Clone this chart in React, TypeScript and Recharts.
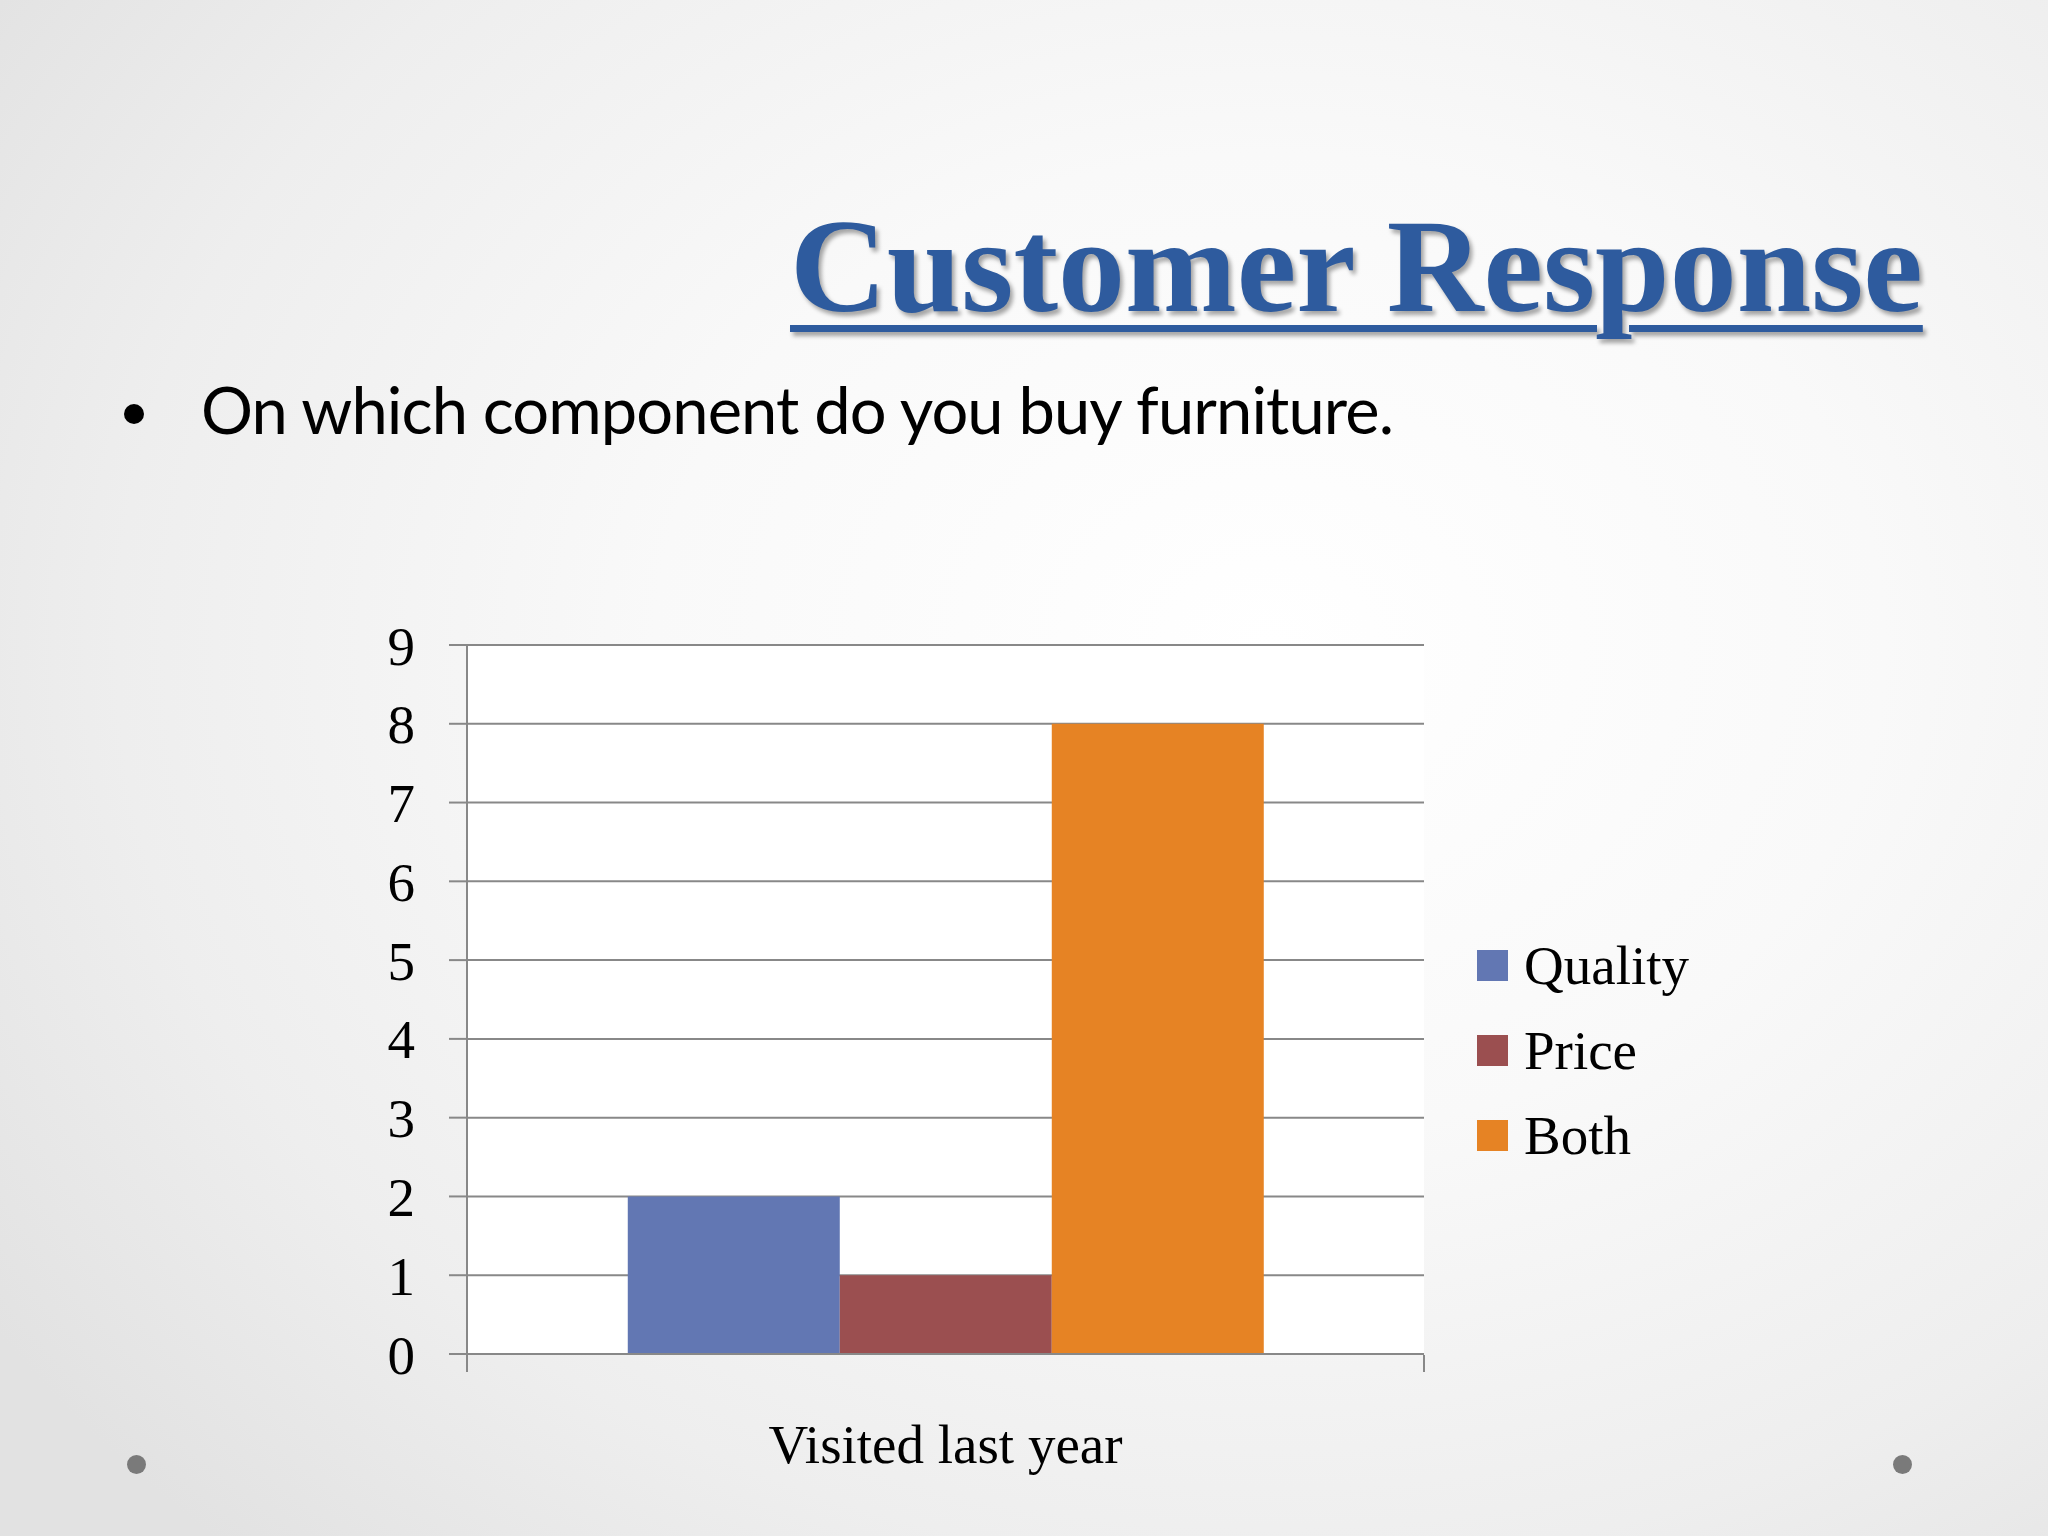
import { BarChart, Bar, XAxis, YAxis, CartesianGrid } from "recharts";

const categories = ["Visited last year"];
const quality = [2];
const price = [1];
const both = [8];
const yTicks = [0, 1, 2, 3, 4, 5, 6, 7, 8, 9];

const series = [
  { key: "Quality", color: "#6277B3", values: quality },
  { key: "Price", color: "#9B4F50", values: price },
  { key: "Both", color: "#E68324", values: both },
];

const data = categories.map((name, i) => {
  const row: Record<string, string | number> = { name };
  series.forEach((s) => (row[s.key] = s.values[i]));
  return row;
});

const SERIF = "'Liberation Serif', 'Times New Roman', serif";
const AXIS = "#888888";

export default function App() {
  return (
    <div
      style={{
        position: "fixed",
        left: 0,
        top: 0,
        width: 2048,
        height: 1536,
        overflow: "hidden",
        background:
          "radial-gradient(ellipse 75% 80% at 62% 42%, #ffffff 0%, #f9f9f9 40%, #eeeeee 75%, #e2e2e2 100%)",
      }}
    >
      {/* slide title */}
      <div
        style={{
          position: "absolute",
          left: 790,
          top: 199,
          fontFamily: SERIF,
          fontWeight: "bold",
          fontSize: 134,
          lineHeight: 1,
          color: "#2E5B9E",
          whiteSpace: "nowrap",
          textDecoration: "underline",
          textDecorationThickness: 7,
          textUnderlineOffset: 14,
          textShadow: "3px 4px 4px rgba(0,0,0,0.35)",
        }}
      >
        Customer Response
      </div>

      {/* bullet */}
      <div
        style={{
          position: "absolute",
          left: 124,
          top: 404,
          width: 20,
          height: 20,
          borderRadius: 10,
          background: "#000",
        }}
      />
      <div
        style={{
          position: "absolute",
          left: 201,
          top: 377,
          fontFamily: "Lato, 'Open Sans', sans-serif",
          fontSize: 65,
          letterSpacing: -0.9,
          lineHeight: 1,
          color: "#000",
          whiteSpace: "nowrap",
        }}
      >
        On which component do you buy furniture.
      </div>

      <div style={{ position: "absolute", left: 0, top: 0 }}>
        <BarChart
          width={2048}
          height={1536}
          data={data}
          margin={{ top: 645, right: 624, bottom: 82, left: 367 }}
          barCategoryGap="16.8%"
          barGap={0}
        >
          <CartesianGrid vertical={false} stroke={AXIS} strokeWidth={2} fill="#ffffff" />
          <XAxis
            dataKey="name"
            height={1}
            tickLine={false}
            axisLine={{ stroke: AXIS, strokeWidth: 2 }}
            tickSize={0}
            tickMargin={70}
            tick={{ fill: "#000", fontSize: 55, fontFamily: SERIF }}
          />
          {/* linear axis across the plot width: only the two end ticks */}
          <XAxis
            xAxisId="edge"
            dataKey="name"
            type="number"
            scale="linear"
            domain={[0, 1]}
            allowDataOverflow
            ticks={[0, 1]}
            tickFormatter={() => ""}
            axisLine={false}
            tickLine={{ stroke: AXIS, strokeWidth: 2 }}
            tickSize={17}
            height={99}
          />
          <YAxis
            width={100}
            domain={[0, 9]}
            ticks={yTicks}
            interval={0}
            tickSize={18}
            tickMargin={34}
            axisLine={{ stroke: AXIS, strokeWidth: 2 }}
            tickLine={{ stroke: AXIS, strokeWidth: 2 }}
            tick={{ fill: "#000", fontSize: 55, fontFamily: SERIF }}
          />
          {series.map((s) => (
            <Bar key={s.key} dataKey={s.key} fill={s.color} isAnimationActive={false} />
          ))}
        </BarChart>
      </div>

      {/* legend */}
      <div style={{ position: "absolute", left: 1477, top: 923 }}>
        {series.map((s) => (
          <div key={s.key} style={{ display: "flex", alignItems: "center", height: 85 }}>
            <div style={{ width: 31, height: 31, background: s.color, marginRight: 16 }} />
            <span style={{ fontFamily: SERIF, fontSize: 55, lineHeight: 1, color: "#000" }}>
              {s.key}
            </span>
          </div>
        ))}
      </div>

      {/* slide corner dots */}
      <div
        style={{
          position: "absolute",
          left: 127,
          top: 1455,
          width: 19,
          height: 19,
          borderRadius: 10,
          background: "#7a7a7a",
        }}
      />
      <div
        style={{
          position: "absolute",
          left: 1893,
          top: 1455,
          width: 19,
          height: 19,
          borderRadius: 10,
          background: "#7a7a7a",
        }}
      />
    </div>
  );
}
